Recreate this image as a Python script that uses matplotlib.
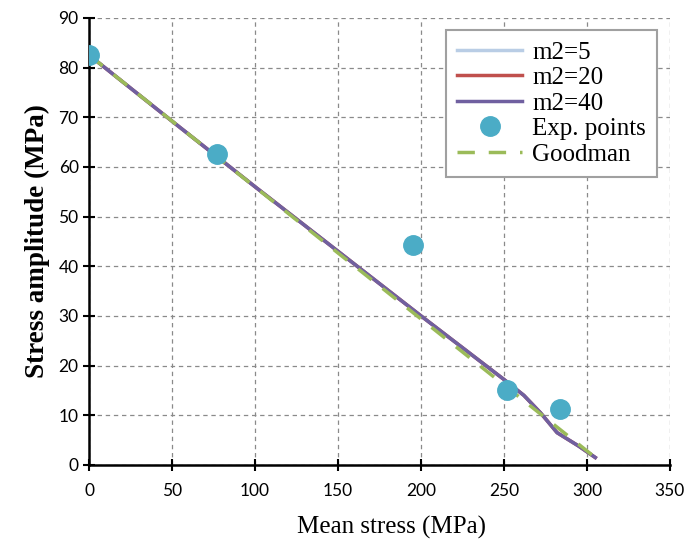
import matplotlib.pyplot as plt

plt.rcParams['font.family'] = ['Liberation Serif', 'DejaVu Serif']

# dados
m2_x = [0, 50, 100, 150, 200, 250, 262, 272, 282, 295, 305]
m2_5 = [82.5, 69.2, 56.0, 43.0, 30.0, 17.2, 14.0, 10.5, 6.5, 3.8, 1.5]
m2_20 = [82.5, 69.2, 56.0, 43.0, 30.0, 17.2, 14.0, 10.5, 6.5, 3.8, 1.5]
m2_40 = [82.5, 69.2, 56.0, 43.0, 30.0, 17.2, 14.0, 10.5, 6.5, 3.8, 1.5]

exp_x = [0, 77, 195, 252, 284]
exp_y = [82.5, 62.5, 44.3, 15.0, 11.3]

goodman_x = [0, 305]
goodman_y = [82.5, 1.5]

fig = plt.figure(figsize=(6.85, 5.4), dpi=100)
ax = fig.add_axes([0.130, 0.139, 0.848, 0.828])

ax.plot(m2_x, m2_5, color='#b9cde5', lw=2.5, label='m2=5')
ax.plot(m2_x, m2_20, color='#c0504d', lw=2.5, label='m2=20')
ax.plot(m2_x, m2_40, color='#7060a0', lw=2.5, label='m2=40')
ax.plot(exp_x, exp_y, 'o', color='#4bacc6', ms=14, label='Exp. points', zorder=5)
ax.plot(goodman_x, goodman_y, '--', color='#9bbb59', lw=2.5, dashes=(5, 4), label='Goodman')

ax.set_xlim(0, 350)
ax.set_ylim(0, 90)
ax.set_xticks(range(0, 351, 50))
ax.set_yticks(range(0, 91, 10))
ax.grid(True, ls=(0, (3.5, 3)), color='#8a8a8a', lw=0.9)
ax.spines['top'].set_visible(False)
ax.spines['right'].set_visible(False)
ax.spines['left'].set_linewidth(1.8)
ax.spines['bottom'].set_linewidth(1.8)
ax.tick_params(direction='inout', length=8, width=1.5)
ax.tick_params(axis='x', pad=9)
for lab in ax.get_xticklabels() + ax.get_yticklabels():
    lab.set_family(['Lato', 'DejaVu Sans'])
    lab.set_fontsize(12.5)

ax.set_xlabel('Mean stress (MPa)', fontsize=18, labelpad=12)
ax.xaxis.set_label_coords(0.52, -0.115)
ax.set_ylabel('Stress amplitude (MPa)', fontsize=19.5, fontweight='bold', labelpad=6)

leg = ax.legend(loc='upper right', bbox_to_anchor=(0.978, 0.973), borderaxespad=0,
                fontsize=18, fancybox=False, framealpha=1, edgecolor='#a0a0a0',
                handlelength=2.6, labelspacing=0.12, borderpad=0.45,
                handletextpad=0.4)
leg.get_frame().set_linewidth(1.5)

fig.savefig('out.png', dpi=100)
